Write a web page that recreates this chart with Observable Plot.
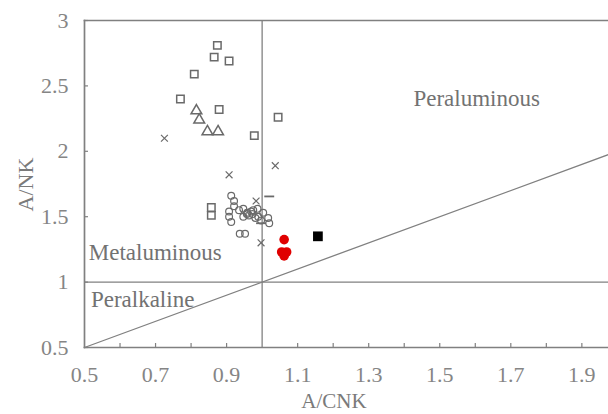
<!DOCTYPE html>
<html><head><meta charset="utf-8">
<script src="https://cdn.jsdelivr.net/npm/d3@7"></script>
<script src="https://cdn.jsdelivr.net/npm/@observablehq/plot@0.6"></script>
<style>
body{margin:0;background:#fff;}
#chart svg{display:block;background:#fff;}
</style>
</head><body><div id="chart"></div>
<script>
// Data
const xTicksLabeled = [0.5, 0.7, 0.9, 1.1, 1.3, 1.5, 1.7, 1.9];
const xTicksMinor = [0.6, 0.7, 0.8, 0.9, 1.1, 1.2, 1.3, 1.4, 1.5, 1.6, 1.7, 1.8, 1.9];
const yTicks = [0.5, 1, 1.5, 2, 2.5, 3];

const openSquares = [
  [0.874, 2.81], [0.865, 2.72], [0.907, 2.69], [0.809, 2.59], [0.770, 2.40],
  [0.879, 2.32], [1.045, 2.26], [0.978, 2.12], [0.857, 1.57], [0.857, 1.51]
];
const triangles = [[0.815, 2.31], [0.823, 2.24], [0.846, 2.15], [0.876, 2.15]];
const crosses = [[0.725, 2.10], [0.907, 1.82], [1.037, 1.89], [0.983, 1.62], [0.997, 1.30]];
const dashes = [[1.020, 1.655], [0.997, 1.45]];
const circles = [
  [0.913, 1.66], [0.921, 1.62], [0.921, 1.58], [0.907, 1.54], [0.907, 1.50],
  [0.913, 1.46], [0.935, 1.55], [0.947, 1.50], [0.958, 1.53], [0.969, 1.54],
  [0.973, 1.52], [0.963, 1.51], [0.987, 1.56], [0.989, 1.50], [0.997, 1.47],
  [1.003, 1.53], [1.017, 1.49], [1.020, 1.45], [0.937, 1.37], [0.952, 1.37],
  [0.981, 1.49], [0.947, 1.56], [0.975, 1.55], [0.957, 1.52]
];
const blackSquares = [[1.157, 1.35]];
const redDots = [[1.062, 1.325], [1.055, 1.23], [1.069, 1.23], [1.062, 1.20]];

const diagonalX = [0.5, 1.975];
const diagonalY = [0.5, 1.975];
const regionNames = ["Peraluminous", "Metaluminous", "Peralkaline"];
const regionX = [1.604, 0.512, 0.518];
const regionY = [2.40, 1.225, 0.865];

const gray = "#6a6a6a";
const axisGray = "#808080";
const font = "'Liberation Serif', 'Times New Roman', serif";

const dashSymbol = { draw(ctx, size) { const w = Math.sqrt(size) * 0.7; ctx.moveTo(-w, 0); ctx.lineTo(w, 0); } };

const diag = diagonalX.map((x, i) => ({x, y: diagonalY[i]}));
const regions = regionNames.map((t, i) => ({t, x: regionX[i], y: regionY[i]}));

const plot = Plot.plot({
  width: 608, height: 414,
  marginLeft: 84, marginTop: 20, marginBottom: 67, marginRight: 0,
  style: {fontFamily: font, background: "#fff"},
  x: {domain: [0.5, 1.975], label: null},
  y: {domain: [0.5, 3], label: null},
  marks: [
    Plot.ruleX([1], {stroke: axisGray, strokeWidth: 1.3}),
    Plot.ruleY([1], {stroke: axisGray, strokeWidth: 1.3}),
    Plot.line(diag, {x: "x", y: "y", stroke: axisGray, strokeWidth: 1.3}),
    Plot.frame({anchor: "left", stroke: axisGray, strokeWidth: 1.7}),
    Plot.frame({anchor: "top", stroke: axisGray, strokeWidth: 1.7}),
    Plot.frame({anchor: "bottom", stroke: axisGray, strokeWidth: 1.7}),
    Plot.axisX({ticks: xTicksMinor, tickSize: -4, tickFormat: () => "", stroke: axisGray, strokeWidth: 1.2, label: null}),
    Plot.axisX({ticks: xTicksLabeled, tickSize: 0, tickPadding: 19, tickFormat: d => String(d), fontSize: 22, fill: "#858585", label: null}),
    Plot.axisY({ticks: yTicks, tickSize: -4, tickPadding: 20, tickFormat: d => String(d), fontSize: 22, fill: "#858585", stroke: axisGray, strokeWidth: 1.2, label: null}),
    Plot.text(regions.slice(0, 1), {x: "x", y: "y", text: "t", textAnchor: "middle", fontSize: 23, fill: "#727272"}),
    Plot.text(regions.slice(1), {x: "x", y: "y", text: "t", textAnchor: "start", fontSize: 23, fill: "#727272"}),
    Plot.dot(circles, {x: d => d[0], y: d => d[1], symbol: "circle", r: 3.4, stroke: gray, strokeWidth: 1.2, fill: "none"}),
    Plot.dot(openSquares, {x: d => d[0], y: d => d[1], symbol: "square", r: 4.2, stroke: gray, strokeWidth: 1.5, fill: "none"}),
    Plot.dot(triangles, {x: d => d[0], y: d => d[1], symbol: "triangle", r: 4, stroke: gray, strokeWidth: 1.5, fill: "none"}),
    Plot.dot(crosses, {x: d => d[0], y: d => d[1], symbol: "times", r: 3.2, stroke: gray, strokeWidth: 1.2}),
    Plot.dot(dashes, {x: d => d[0], y: d => d[1], symbol: dashSymbol, r: 4, stroke: gray, strokeWidth: 1.8}),
    Plot.dot(blackSquares, {x: d => d[0], y: d => d[1], symbol: "square", r: 5.5, fill: "#000", stroke: "none"}),
    Plot.dot(redDots, {x: d => d[0], y: d => d[1], symbol: "circle", r: 4.8, fill: "#e00000", stroke: "none"})
  ]
});
document.getElementById("chart").appendChild(plot);

// axis titles as real text in the SVG
const svg = d3.select(plot);
svg.append("text").attr("x", 334).attr("y", 408).attr("text-anchor", "middle")
  .attr("font-size", 21).attr("fill", "#7a7a7a").text("A/CNK");
svg.append("text").attr("transform", "translate(33,184.5) rotate(-90)").attr("text-anchor", "middle")
  .attr("font-size", 22).attr("fill", "#7a7a7a").text("A/NK");
svg.selectAll("text").style("font-family", font);
</script>
</body></html>
